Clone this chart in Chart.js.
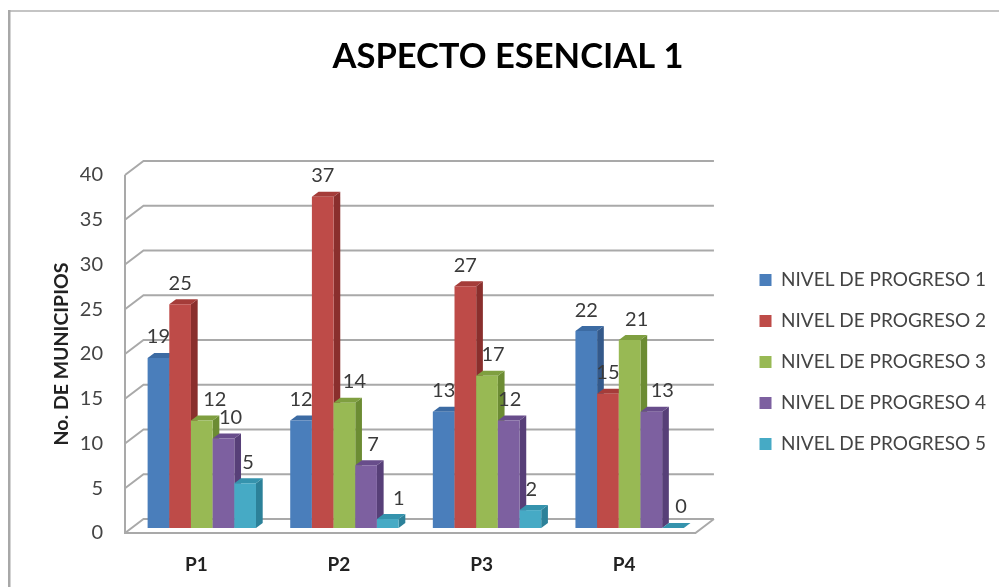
<!DOCTYPE html>
<html>
<head>
<meta charset="utf-8">
<title>Aspecto esencial 1</title>
<script src="https://cdn.jsdelivr.net/npm/chart.js@4"></script>
<style>
    html, body { margin: 0; padding: 0; background: #fff; }
    canvas { display: block; }
</style>
</head>
<body>
<canvas id="chart" width="999" height="587"></canvas>
<script>
const categories = ['P1', 'P2', 'P3', 'P4'];
const seriesNames = ['NIVEL DE PROGRESO 1', 'NIVEL DE PROGRESO 2', 'NIVEL DE PROGRESO 3', 'NIVEL DE PROGRESO 4', 'NIVEL DE PROGRESO 5'];

const nivel1 = [19, 12, 13, 22];
const nivel2 = [25, 37, 27, 15];
const nivel3 = [12, 14, 17, 21];
const nivel4 = [10, 7, 12, 13];
const nivel5 = [5, 1, 2, 0];

// face colours per series: front, side, top
const frontColors = ['#4a7ebb', '#be4b48', '#98b954', '#7d60a0', '#46aac5'];
const sideColors = ['#34598a', '#8a2f2d', '#6c8c33', '#573f78', '#2c8199'];
const topColors = ['#3c6ba3', '#a53c39', '#7f9f40', '#684d8b', '#3593ad'];

// Excel pushed some labels sideways to dodge the bars (px, per series then category)
const labelNudge = [
    [0, 0, 0, 0],
    [0, 0, 0, 0],
    [13, 10, 6, 7],
    [7, 7, 1, 11],
    [3, 11, 1, 8]
];

const GRID_COLOR = '#a9a9a9';
const WALL_DX = 18.5, WALL_DY = -14;   // depth of the back wall
const BAR_DX = 5.5, BAR_DY = -5;       // bars stand in the middle of the floor
const SIDE_DX = 6.7, SIDE_DY = -5;     // depth of each bar

function poly(ctx, color, pts) {
    ctx.fillStyle = color;
    ctx.beginPath();
    pts.forEach((p, i) => i ? ctx.lineTo(p[0], p[1]) : ctx.moveTo(p[0], p[1]));
    ctx.closePath();
    ctx.fill();
}

function drawWalls(chart) {
    const ctx = chart.ctx;
    const { left, right } = chart.chartArea;
    const yScale = chart.scales.y;

    ctx.save();
    ctx.strokeStyle = GRID_COLOR;
    ctx.lineWidth = 2;
    ctx.beginPath();
    yScale.ticks.forEach((t, i) => {
        const y = yScale.getPixelForTick(i);
        ctx.moveTo(left, y);
        ctx.lineTo(left + WALL_DX, y + WALL_DY);
        ctx.lineTo(right + WALL_DX, y + WALL_DY);
    });
    // axis and front floor edge
    const y0 = yScale.getPixelForValue(0);
    ctx.moveTo(left, yScale.getPixelForValue(40));
    ctx.lineTo(left, y0);
    ctx.lineTo(right, y0);
    ctx.lineTo(right + WALL_DX, y0 + WALL_DY);
    ctx.stroke();
    ctx.restore();
}

function drawBars(chart) {
    const ctx = chart.ctx;
    chart.data.datasets.forEach((ds, i) => {
        const meta = chart.getDatasetMeta(i);
        meta.data.forEach(bar => {
            const l = bar.x - bar.width / 2 + BAR_DX;
            const r = bar.x + bar.width / 2 + BAR_DX;
            const t = bar.y + BAR_DY;
            const b = bar.base + BAR_DY;
            poly(ctx, sideColors[i], [[r, t], [r + SIDE_DX, t + SIDE_DY], [r + SIDE_DX, b + SIDE_DY], [r, b]]);
            poly(ctx, topColors[i], [[l, t], [l + SIDE_DX, t + SIDE_DY], [r + SIDE_DX, t + SIDE_DY], [r, t]]);
        });
        ctx.save();
        ctx.translate(BAR_DX, BAR_DY);
        meta.controller.draw();
        ctx.restore();
    });
}

function drawValueLabels(chart) {
    const ctx = chart.ctx;
    ctx.save();
    ctx.font = '20px Lato';
    ctx.fillStyle = '#3a3a3a';
    ctx.textAlign = 'center';
    ctx.textBaseline = 'middle';
    chart.data.datasets.forEach((ds, i) => {
        chart.getDatasetMeta(i).data.forEach((bar, j) => {
            ctx.fillText(String(ds.data[j]), bar.x + BAR_DX + labelNudge[i][j], bar.y + BAR_DY - 21);
        });
    });
    ctx.restore();
}

const bars3d = {
    id: 'bars3d',
    beforeDraw(chart) {
        // picture frame, only top and left survive in the scan
        const ctx = chart.ctx;
        ctx.save();
        ctx.fillStyle = '#c4c4c4';
        ctx.fillRect(8, 10, 991, 2);
        ctx.fillStyle = '#a8a8a8';
        ctx.fillRect(8, 10, 2.5, 577);
        ctx.restore();
    },
    afterLayout(chart) {
        // legend draw is clipped to its box, so stretch the box to the canvas edge
        const legend = chart.legend;
        legend.left = 737.5;
        legend.right = 999;
        legend.top = 248.5;
        chart.titleBlock.left = 0;
        chart.titleBlock.right = 1016;
    },
    beforeDatasetsDraw(chart) {
        drawWalls(chart);
        drawBars(chart);
        drawValueLabels(chart);
        return false; // bars must paint left to right, so skip the default reverse pass
    }
};

const seriesValues = [nivel1, nivel2, nivel3, nivel4, nivel5];

const chart = new Chart(document.getElementById('chart'), {
    type: 'bar',
    data: {
        labels: categories,
        datasets: seriesNames.map((name, i) => ({
            label: name,
            data: seriesValues[i],
            backgroundColor: frontColors[i],
            borderWidth: 0,
            categoryPercentage: 0.76,
            barPercentage: 1
        }))
    },
    plugins: [bars3d],
    options: {
        responsive: false,
        animation: false,
        layout: { padding: { left: 0, right: 70, top: 0, bottom: 0 } },
        scales: {
            x: {
                grid: { display: false, drawTicks: false },
                border: { display: false },
                ticks: { color: '#222', padding: 20, font: { family: 'Lato', size: 19, weight: 'bold' } },
                afterFit(scale) { scale.height = 54; }
            },
            y: {
                min: 0,
                max: 40,
                grid: { display: false, drawTicks: false },
                border: { display: false },
                ticks: { stepSize: 5, color: '#444', padding: 22, font: { family: 'Lato', size: 20 } },
                title: {
                    display: true,
                    text: 'No. DE MUNICIPIOS',
                    color: '#222',
                    padding: { top: 50, bottom: 0 },
                    font: { family: 'Lato', size: 19.5, weight: 'bold' }
                },
                afterFit(scale) { scale.width = 125; }
            }
        },
        plugins: {
            title: {
                display: true,
                text: 'ASPECTO ESENCIAL 1',
                color: '#000',
                padding: { top: 36, bottom: 97.6 },
                font: { family: 'Lato', size: 34.5, weight: 'bold', lineHeight: 1.2 }
            },
            legend: {
                position: 'right',
                align: 'start',
                labels: {
                    color: '#444',
                    boxWidth: 12,
                    boxHeight: 12,
                    padding: 22,
                    font: { family: 'Lato', size: 19 }
                }
            },
            tooltip: { enabled: false }
        }
    }
});

// legend width is only known after the first layout, so pin the plot's right edge now
chart.options.layout.padding.right += chart.chartArea.right - 695;
chart.update('none');
</script>
</body>
</html>
